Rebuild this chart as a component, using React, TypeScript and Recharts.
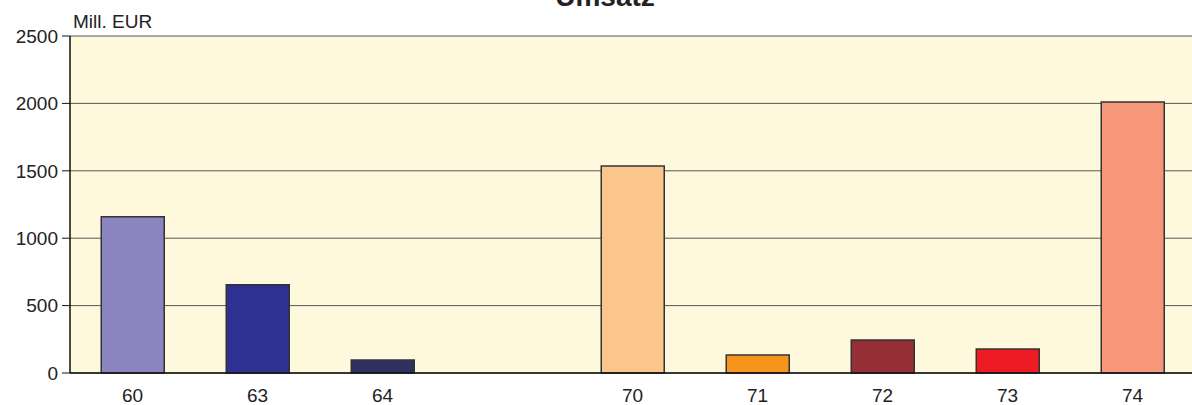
import React from "react";
import { BarChart, Bar, XAxis, YAxis, CartesianGrid, Cell } from "recharts";

// Umsatz in Mill. EUR per Sparte
const categories = ["60", "63", "64", "", "70", "71", "72", "73", "74"];
const umsatz = [1160, 655, 96, 0, 1536, 134, 245, 178, 2010];
const barColors = [
  "#8A84BF",
  "#2E3192",
  "#2F3163",
  "#FFFFFF",
  "#FBC68B",
  "#F7941D",
  "#962E36",
  "#ED1C24",
  "#F6977A",
];
const yTicks = [0, 500, 1000, 1500, 2000, 2500];

const chartData = categories.map((cat, i) => ({
  cat,
  value: categories[i] === "" ? null : umsatz[i],
}));

const font = "'Liberation Sans', Arial, Helvetica, sans-serif";

const App: React.FC = () => {
  return (
    <div
      style={{
        position: "absolute",
        left: 0,
        top: 0,
        width: 1192,
        height: 405,
        overflow: "hidden",
        background: "#fff",
        fontFamily: font,
      }}
    >
      <BarChart
        width={1195}
        height={405}
        data={chartData}
        margin={{ top: 36, right: 0, bottom: 0, left: 0 }}
        barCategoryGap="25%"
      >
        <CartesianGrid
          vertical={false}
          fill="#FEF9DC"
          stroke="#555"
          strokeWidth={1}
          strokeOpacity={1}
        />
        <XAxis
          dataKey="cat"
          height={32}
          tickLine={false}
          tickSize={0}
          tickMargin={16}
          axisLine={{ stroke: "#111", strokeWidth: 1.5 }}
          tick={{ fill: "#222", fontSize: 19, fontFamily: font }}
          interval={0}
        />
        <YAxis
          width={70}
          domain={[0, 2500]}
          ticks={yTicks}
          tickSize={8}
          tickMargin={4}
          interval={0}
          axisLine={{ stroke: "#111", strokeWidth: 1.5 }}
          tickLine={{ stroke: "#111" }}
          tick={{ fill: "#222", fontSize: 19, fontFamily: font }}
        />
        <Bar
          dataKey="value"
          stroke="#333"
          strokeWidth={1.5}
          isAnimationActive={false}
        >
          {chartData.map((d, i) => (
            <Cell key={d.cat + i} fill={barColors[i]} />
          ))}
        </Bar>
      </BarChart>
      <div
        style={{
          position: "absolute",
          left: 0,
          width: 1210,
          top: -17,
          textAlign: "center",
          fontWeight: "bold",
          fontSize: 28,
          lineHeight: 1,
          color: "#222",
        }}
      >
        Umsatz
      </div>
      <div
        style={{
          position: "absolute",
          left: 73,
          top: 12,
          fontSize: 19,
          lineHeight: 1,
          color: "#222",
        }}
      >
        Mill. EUR
      </div>
    </div>
  );
};

export default App;
